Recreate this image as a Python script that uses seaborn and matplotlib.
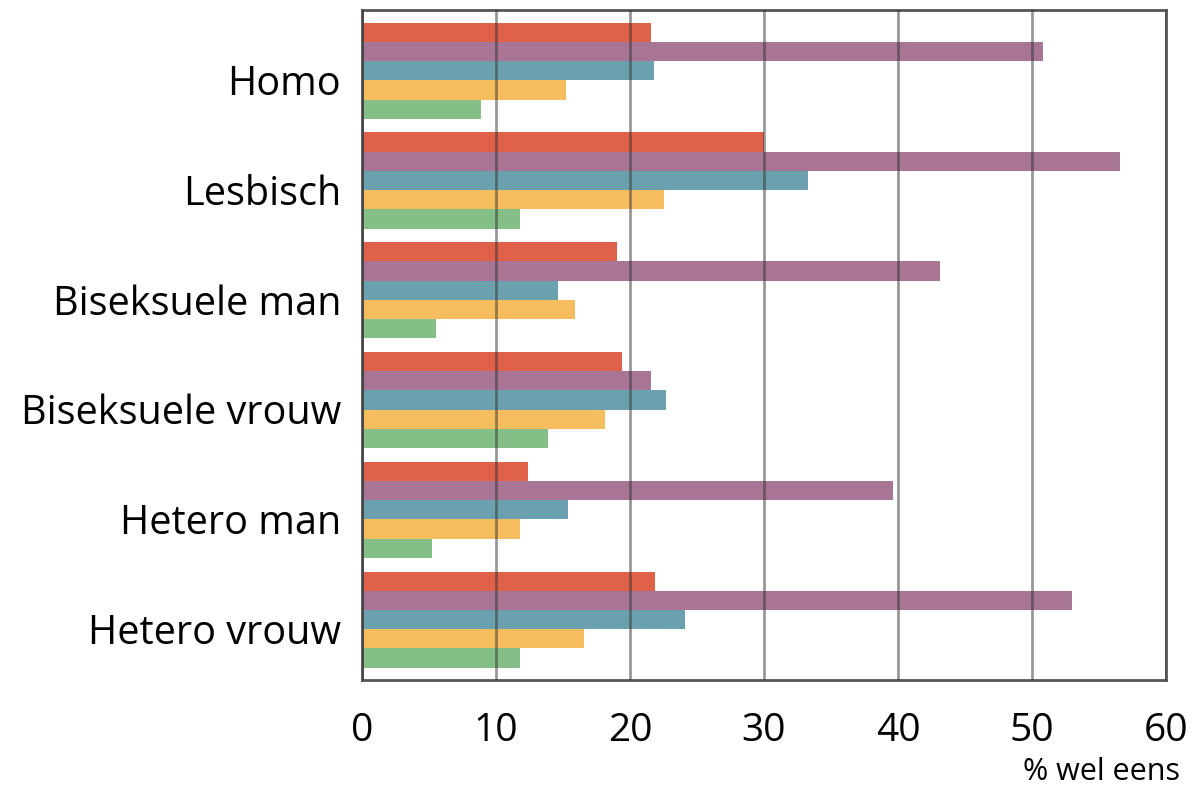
import pandas as pd
import numpy as np
import matplotlib
matplotlib.use('Agg')
import matplotlib.pyplot as plt
import matplotlib.transforms as mtransforms
import seaborn as sns

# Data (% wel eens)
groups = ['Homo', 'Lesbisch', 'Biseksuele man', 'Biseksuele vrouw', 'Hetero man', 'Hetero vrouw']
series = ['s1', 's2', 's3', 's4', 's5']
s1 = [21.6, 30.0, 19.0, 19.4, 12.4, 21.9]
s2 = [50.8, 56.6, 43.1, 21.6, 39.6, 53.0]
s3 = [21.8, 33.3, 14.6, 22.7, 15.4, 24.1]
s4 = [15.2, 22.5, 15.9, 18.1, 11.8, 16.6]
s5 = [8.9, 11.8, 5.5, 13.9, 5.2, 11.8]
colors = ['#E0614A', '#A87595', '#6BA1AE', '#F5BD5E', '#83BF86']

rows = []
for name, vals in zip(series, [s1, s2, s3, s4, s5]):
    for g, v in zip(groups, vals):
        rows.append({'groep': g, 'reeks': name, 'pct': v})
df = pd.DataFrame(rows)

sns.set_theme(style='white')
plt.rcParams['font.family'] = ['Open Sans', 'DejaVu Sans']

fig = plt.figure(figsize=(11.92, 7.93), dpi=100)
ax = fig.add_axes([0.3037, 0.1425, 0.6745, 0.8445])

sns.barplot(data=df, y='groep', x='pct', hue='reeks', order=groups, hue_order=series,
            palette=colors, width=0.875, saturation=1, legend=False,
            linewidth=0, edgecolor='none', ax=ax)

ax.set_xlim(0, 60)
ax.set_ylim(5.55, -0.55)
ax.set_xticks(range(0, 61, 10))
ax.set_xlabel('')
ax.set_ylabel('')

# gridlines over the bars
ax.set_axisbelow(False)
ax.xaxis.grid(True, color='#333333', alpha=0.5, linewidth=2)
ax.yaxis.grid(False)

for sp in ax.spines.values():
    sp.set_visible(True)
    sp.set_color('#555555')
    sp.set_linewidth(2)

ax.tick_params(axis='y', length=0, pad=15, labelsize=28.5, labelcolor='black')
ax.tick_params(axis='x', length=0, pad=23, labelsize=28, labelcolor='black')

# labels sit slightly below the group centres in the reference
off = mtransforms.ScaledTranslation(0, -9 / 100, fig.dpi_scale_trans)
for lbl in ax.get_yticklabels():
    lbl.set_transform(lbl.get_transform() + off)

fig.text(0.99, 0.008, '% wel eens', ha='right', va='bottom', fontsize=22, color='black')

plt.savefig('out.png', dpi=100)
